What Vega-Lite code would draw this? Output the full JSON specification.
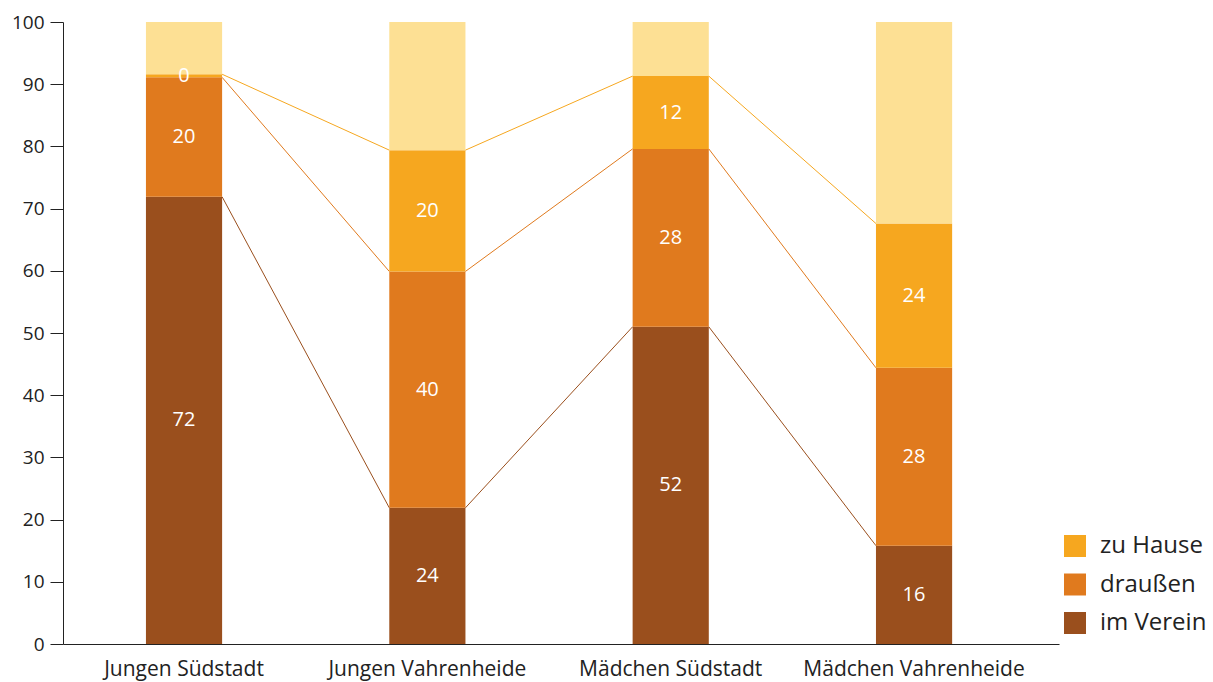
{
  "$schema": "https://vega.github.io/schema/vega-lite/v6.json",
  "width": 996,
  "height": 622,
  "autosize": {"type": "none"},
  "padding": {"left": 63, "top": 22, "right": 154, "bottom": 38},
  "config": {
    "view": {"stroke": null},
    "font": "Open Sans",
    "axis": {"domainColor": "#222", "tickColor": "#222", "labelColor": "#333", "grid": false}
  },
  "data": {
    "values": [
      {"group": "Jungen Südstadt", "cat": "im Verein", "value": 71.9, "label": "72"},
      {"group": "Jungen Südstadt", "cat": "draußen", "value": 19.2, "label": "20"},
      {"group": "Jungen Südstadt", "cat": "zu Hause", "value": 0.5, "label": "0"},
      {"group": "Jungen Südstadt", "cat": "Rest", "value": 8.4, "label": ""},
      {"group": "Jungen Vahrenheide", "cat": "im Verein", "value": 21.9, "label": "24"},
      {"group": "Jungen Vahrenheide", "cat": "draußen", "value": 38.0, "label": "40"},
      {"group": "Jungen Vahrenheide", "cat": "zu Hause", "value": 19.5, "label": "20"},
      {"group": "Jungen Vahrenheide", "cat": "Rest", "value": 20.6, "label": ""},
      {"group": "Mädchen Südstadt", "cat": "im Verein", "value": 51.0, "label": "52"},
      {"group": "Mädchen Südstadt", "cat": "draußen", "value": 28.6, "label": "28"},
      {"group": "Mädchen Südstadt", "cat": "zu Hause", "value": 11.7, "label": "12"},
      {"group": "Mädchen Südstadt", "cat": "Rest", "value": 8.7, "label": ""},
      {"group": "Mädchen Vahrenheide", "cat": "im Verein", "value": 15.8, "label": "16"},
      {"group": "Mädchen Vahrenheide", "cat": "draußen", "value": 28.6, "label": "28"},
      {"group": "Mädchen Vahrenheide", "cat": "zu Hause", "value": 23.2, "label": "24"},
      {"group": "Mädchen Vahrenheide", "cat": "Rest", "value": 32.4, "label": ""}
    ]
  },
  "transform": [
    {"calculate": "indexof(['im Verein','draußen','zu Hause','Rest'], datum.cat)", "as": "ord"},
    {"calculate": "indexof(['Jungen Südstadt','Jungen Vahrenheide','Mädchen Südstadt','Mädchen Vahrenheide'], datum.group)", "as": "gi"},
    {"stack": "value", "groupby": ["group"], "sort": [{"field": "ord", "order": "ascending"}], "as": ["y0", "y1"]},
    {"calculate": "(datum.y0 + datum.y1) / 2", "as": "mid"}
  ],
  "encoding": {
    "x": {
      "field": "group",
      "type": "nominal",
      "sort": ["Jungen Südstadt", "Jungen Vahrenheide", "Mädchen Südstadt", "Mädchen Vahrenheide"],
      "scale": {"paddingInner": 0.687, "paddingOuter": 0.39, "align": 0.437},
      "axis": {"title": null, "ticks": false, "labelAngle": 0, "labelFontSize": 21, "labelPadding": 14, "labelColor": "#222", "labelLimit": 0}
    }
  },
  "layer": [
    {
      "mark": {"type": "bar"},
      "encoding": {
        "y": {
          "field": "y0",
          "type": "quantitative",
          "scale": {"domain": [0, 100], "nice": false},
          "axis": {"title": null, "values": [0,10,20,30,40,50,60,70,80,90,100], "tickSize": 13, "labelFontSize": 19, "labelPadding": 6, "labelColor": "#222"}
        },
        "y2": {"field": "y1"},
        "color": {
          "field": "cat",
          "type": "nominal",
          "scale": {
            "domain": ["zu Hause", "draußen", "im Verein", "Rest"],
            "range": ["#f6a71f", "#e07a1e", "#9a4f1d", "#fde094"]
          },
          "legend": {
            "title": null,
            "values": ["zu Hause", "draußen", "im Verein"],
            "orient": "none",
            "legendX": 1000,
            "legendY": 512,
            "symbolType": "square",
            "symbolSize": 484,
            "symbolStrokeWidth": 0,
            "symbolOpacity": 1,
            "labelFontSize": 24,
            "labelColor": "#222",
            "labelOffset": 13,
            "labelLimit": 0,
            "rowPadding": 14.5
          }
        }
      }
    },
    {
      "transform": [
        {"filter": "datum.cat != 'Rest'"},
        {"window": [{"op": "lead", "field": "y1", "as": "nextY"}, {"op": "lead", "field": "group", "as": "nextGroup"}], "groupby": ["cat"], "sort": [{"field": "gi", "order": "ascending"}]},
        {"filter": "datum.nextGroup != null"}
      ],
      "mark": {"type": "rule", "strokeWidth": 1},
      "encoding": {
        "x": {"field": "group", "type": "nominal", "bandPosition": 1, "sort": ["Jungen Südstadt", "Jungen Vahrenheide", "Mädchen Südstadt", "Mädchen Vahrenheide"]},
        "x2": {"field": "nextGroup", "bandPosition": 0},
        "y": {"field": "y1", "type": "quantitative"},
        "y2": {"field": "nextY"},
        "color": {"field": "cat", "type": "nominal", "legend": null}
      }
    },
    {
      "transform": [{"filter": "datum.cat != 'Rest'"}],
      "mark": {"type": "text", "color": "white", "fontSize": 20, "baseline": "middle", "align": "center"},
      "encoding": {
        "y": {"field": "mid", "type": "quantitative"},
        "text": {"field": "label"}
      }
    }
  ]
}
